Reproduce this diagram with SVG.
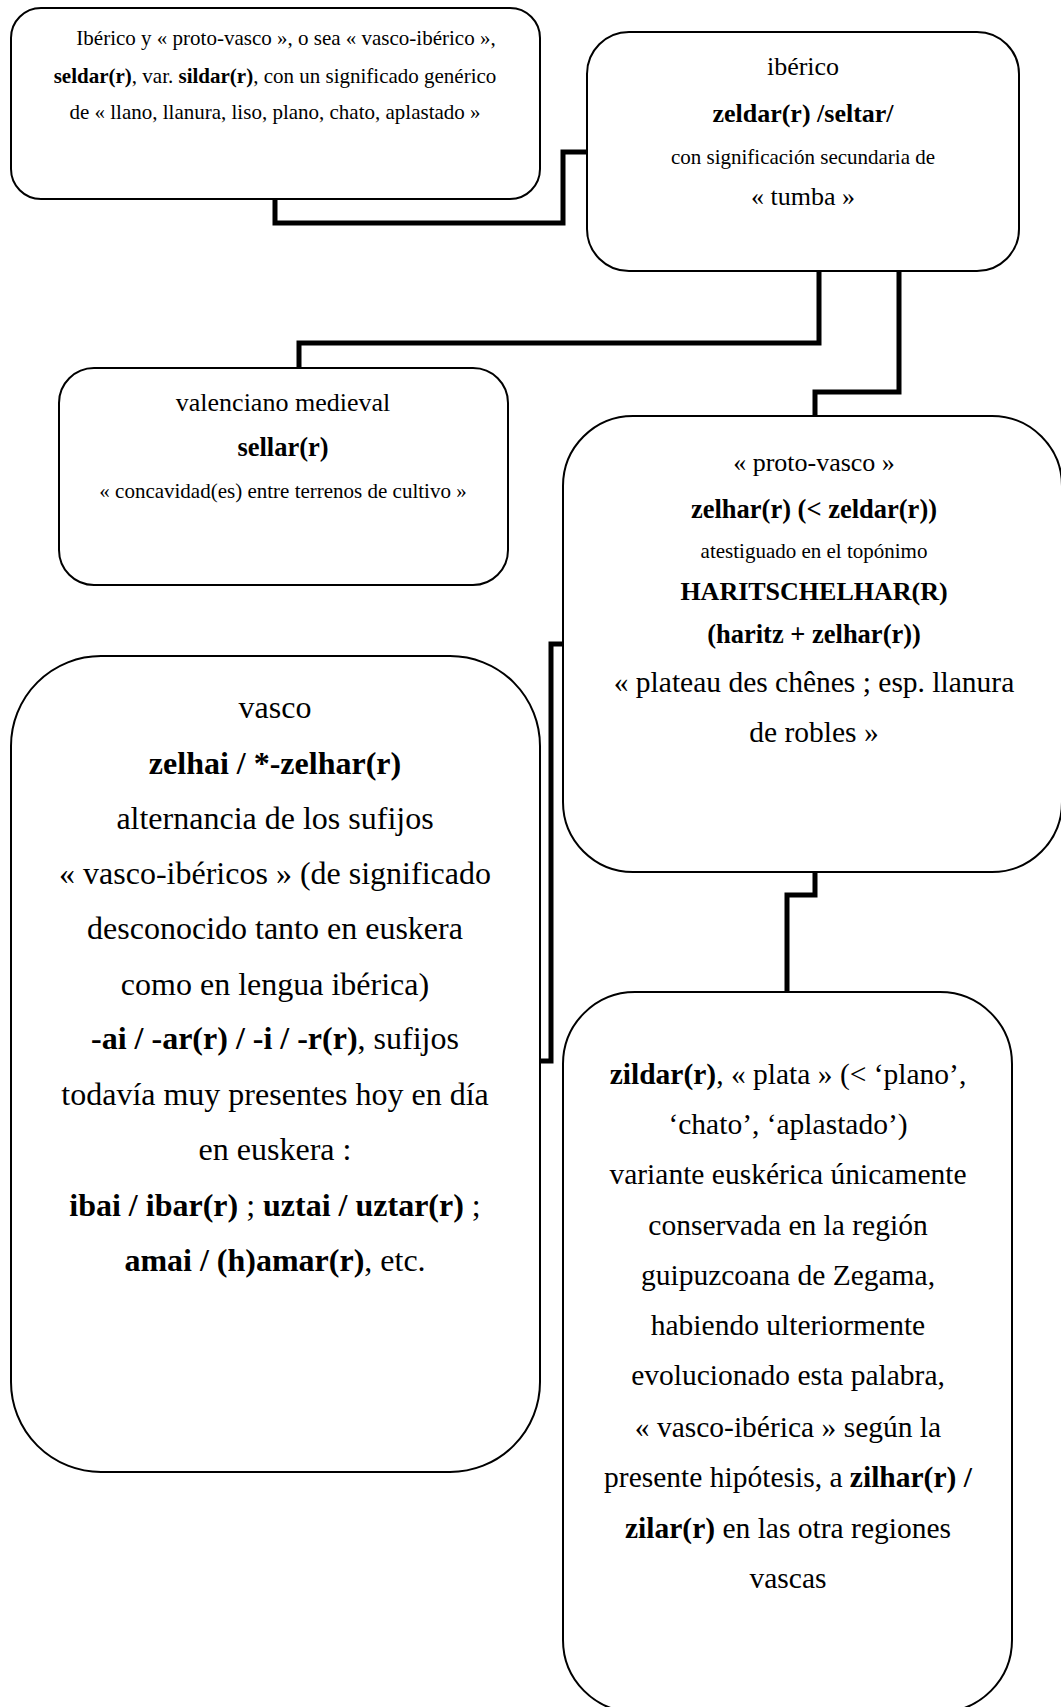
<svg xmlns="http://www.w3.org/2000/svg" width="1061" height="1707" viewBox="0 0 1061 1707">
<style>
.box{fill:#fff;stroke:#000;stroke-width:2}
.con{fill:none;stroke:#000;stroke-width:5;stroke-linejoin:miter;stroke-linecap:butt}
text{font-family:"Liberation Serif","Times New Roman",serif;fill:#000;text-anchor:middle}
.b{font-weight:bold}
.s21{font-size:21px}
.s26{font-size:26px}
.s27{font-size:26.5px}
.s29{font-size:29.5px}
.s32{font-size:32px}
</style>
<rect width="1061" height="1707" fill="#fff"/>
<g id="connectors">
<path class="con" d="M275,199 V223 H563 V152 H588"/>
<path class="con" d="M819,272 V343 H299 V368"/>
<path class="con" d="M899,272 V392 H815 V416"/>
<path class="con" d="M563,644 H551 V1061 H540"/>
<path class="con" d="M815,872 V895 H787 V992"/>
</g>
<g id="n1">
<rect class="box" x="11" y="8" width="529" height="191" rx="30"/>
<text class="s21" x="286" y="45">Ibérico y « proto-vasco », o sea « vasco-ibérico »,</text>
<text class="s21" x="275" y="83"><tspan class="b">seldar(r)</tspan>, var. <tspan class="b">sildar(r)</tspan>, con un significado genérico</text>
<text class="s21" x="275" y="119">de « llano, llanura, liso, plano, chato, aplastado »</text>
</g>
<g id="n2">
<rect class="box" x="587" y="32" width="432" height="239" rx="42"/>
<text class="s26" x="803" y="75">ibérico</text>
<text class="s26 b" x="803" y="122">zeldar(r) /seltar/</text>
<text class="s21" x="803" y="164">con significación secundaria de</text>
<text class="s26" x="803" y="205">« tumba »</text>
</g>
<g id="n3">
<rect class="box" x="59" y="368" width="449" height="217" rx="35"/>
<text class="s26" x="283" y="411">valenciano medieval</text>
<text class="s27 b" x="283" y="456">sellar(r)</text>
<text class="s21" x="283" y="498">« concavidad(es) entre terrenos de cultivo »</text>
</g>
<g id="n4">
<rect class="box" x="563" y="416" width="499" height="456" rx="70"/>
<text class="s26" x="814" y="471">« proto-vasco »</text>
<text class="s27 b" x="814" y="518">zelhar(r) (&lt; zeldar(r))</text>
<text class="s21" x="814" y="558">atestiguado en el topónimo</text>
<text class="s26 b" x="814" y="600">HARITSCHELHAR(R)</text>
<text class="s27 b" x="814" y="643">(haritz + zelhar(r))</text>
<text class="s29" x="814" y="692">« plateau des chênes ; esp. llanura</text>
<text class="s29" x="814" y="742">de robles »</text>
</g>
<g id="n5">
<rect class="box" x="11" y="656" width="529" height="816" rx="90"/>
<text class="s32" x="275" y="718">vasco</text>
<text class="s32 b" x="275" y="774">zelhai / *-zelhar(r)</text>
<text class="s32" x="275" y="829">alternancia de los sufijos</text>
<text class="s32" x="275" y="884">« vasco-ibéricos » (de significado</text>
<text class="s32" x="275" y="939">desconocido tanto en euskera</text>
<text class="s32" x="275" y="995">como en lengua ibérica)</text>
<text class="s32" x="275" y="1049"><tspan class="b">-ai / -ar(r) / -i / -r(r)</tspan>, sufijos</text>
<text class="s32" x="275" y="1105">todavía muy presentes hoy en día</text>
<text class="s32" x="275" y="1160">en euskera :</text>
<text class="s32" x="275" y="1216"><tspan class="b">ibai / ibar(r)</tspan> ; <tspan class="b">uztai / uztar(r)</tspan> ;</text>
<text class="s32" x="275" y="1271"><tspan class="b">amai / (h)amar(r)</tspan>, etc.</text>
</g>
<g id="n6">
<rect class="box" x="563" y="992" width="449" height="720" rx="72"/>
<text class="s29" x="788" y="1084"><tspan class="b">zildar(r)</tspan>, « plata » (&lt; ‘plano’,</text>
<text class="s29" x="788" y="1134">‘chato’, ‘aplastado’)</text>
<text class="s29" x="788" y="1184">variante euskérica únicamente</text>
<text class="s29" x="788" y="1235">conservada en la región</text>
<text class="s29" x="788" y="1285">guipuzcoana de Zegama,</text>
<text class="s29" x="788" y="1335">habiendo ulteriormente</text>
<text class="s29" x="788" y="1385">evolucionado esta palabra,</text>
<text class="s29" x="788" y="1437">« vasco-ibérica » según la</text>
<text class="s29" x="788" y="1487">presente hipótesis, a <tspan class="b">zilhar(r) /</tspan></text>
<text class="s29" x="788" y="1538"><tspan class="b">zilar(r)</tspan> en las otra regiones</text>
<text class="s29" x="788" y="1588">vascas</text>
</g>
</svg>
